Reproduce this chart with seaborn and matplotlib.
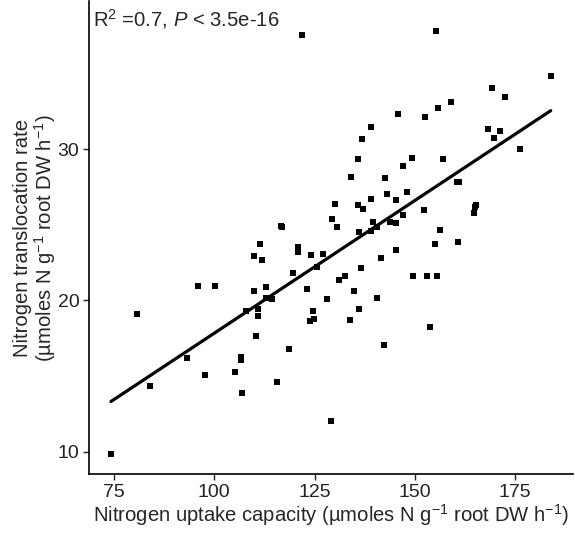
import matplotlib
matplotlib.use("Agg")
import matplotlib.pyplot as plt
import seaborn as sns
import pandas as pd

# Nitrogen uptake capacity vs translocation rate
uptake = [74.25, 80.66, 83.90, 93.27, 95.86, 97.68, 100.25, 105.16, 106.58, 106.58,
          106.83, 107.83, 109.90, 109.97, 110.52, 110.97, 110.94, 111.44, 111.96, 112.81,
          112.81, 114.38, 115.70, 116.63, 116.95, 118.69, 119.54, 120.79, 120.94, 121.86,
          123.18, 124.03, 123.85, 124.68, 124.93, 125.67, 127.17, 128.02, 129.01, 129.39,
          130.01, 130.46, 131.08, 132.65, 133.75, 134.15, 134.82, 135.94, 135.89, 135.99,
          135.99, 136.49, 136.74, 136.99, 138.98, 139.01, 139.13, 139.48, 140.48, 140.55,
          141.55, 142.30, 142.55, 143.00, 143.79, 145.24, 145.41, 145.29, 145.79, 146.96,
          146.96, 148.11, 149.28, 149.45, 152.19, 152.59, 153.09, 153.69, 155.01, 155.33,
          155.58, 155.76, 156.26, 157.08, 158.92, 160.42, 161.07, 160.79, 164.66, 164.98,
          165.23, 168.15, 169.29, 169.72, 171.29, 172.46, 176.27, 183.85]
transloc = [9.83, 19.13, 14.37, 16.22, 20.94, 15.07, 20.94, 15.25, 16.28, 16.06,
            13.90, 19.29, 22.92, 20.61, 17.67, 19.42, 18.97, 23.74, 22.66, 20.86,
            20.19, 20.12, 14.63, 24.95, 24.84, 16.77, 21.82, 23.56, 23.23, 37.56,
            20.76, 23.01, 18.62, 19.33, 18.76, 22.20, 23.08, 20.09, 12.03, 25.39,
            26.37, 24.86, 21.36, 21.62, 18.69, 28.19, 20.63, 29.35, 26.30, 24.52,
            19.42, 22.12, 30.68, 26.05, 31.47, 24.56, 26.73, 25.17, 20.17, 24.85,
            22.82, 17.06, 28.07, 27.01, 25.16, 26.61, 25.15, 23.36, 32.33, 28.91,
            25.63, 27.19, 29.40, 21.62, 26.01, 32.16, 21.62, 18.23, 23.76, 37.82,
            21.62, 32.75, 24.64, 29.33, 33.13, 27.82, 27.82, 23.87, 25.77, 26.16,
            26.32, 31.36, 34.07, 30.73, 31.23, 33.44, 30.00, 34.87]

x_ticks = [75, 100, 125, 150, 175]
y_ticks = [10, 20, 30]
annot = r"R$^2$ =0.7, $\mathit{P}$ < 3.5e-16"

df = pd.DataFrame({"uptake": uptake, "transloc": transloc})

sns.set_style("white")
plt.rcParams["font.family"] = ["Liberation Sans", "DejaVu Sans"]
plt.rcParams["mathtext.fontset"] = "custom"
plt.rcParams["mathtext.rm"] = "Liberation Sans"
plt.rcParams["mathtext.it"] = "Liberation Sans:italic"

fig = plt.figure(figsize=(5.75, 5.33), dpi=100)
ax = fig.add_axes([89.1 / 575, (533 - 474.4) / 533, (572.6 - 89.1) / 575, (474.4 - 1) / 533])

sns.regplot(data=df, x="uptake", y="transloc", ci=None, marker="s", ax=ax,
            scatter_kws={"s": 18, "color": "black", "linewidths": 0, "alpha": 1},
            line_kws={"color": "black", "linewidth": 2.3})

ax.set_xlim(68.8, 189.3)
ax.set_ylim(8.5, 39.8)
ax.set_xticks(x_ticks)
ax.set_yticks(y_ticks)
ax.tick_params(axis="both", labelsize=14, length=4, width=1, pad=3, colors="#222222",
               labelcolor="#222222", direction="out", bottom=True, left=True)

for side in ["top", "right"]:
    ax.spines[side].set_visible(False)
for side in ["left", "bottom"]:
    ax.spines[side].set_color("black")
    ax.spines[side].set_linewidth(1.2)

ax.set_xlabel(r"Nitrogen uptake capacity (µmoles N g$^{-1}$ root DW h$^{-1}$)",
              fontsize=14.6, labelpad=1)
ax.set_ylabel("Nitrogen translocation rate\n" + r"(µmoles N g$^{-1}$ root DW h$^{-1}$)",
              fontsize=14.6, labelpad=0, linespacing=1.0)

ax.text(69.8, 38.1, annot, ha="left", va="baseline", fontsize=14.6)

fig.savefig("out.png", dpi=100)
